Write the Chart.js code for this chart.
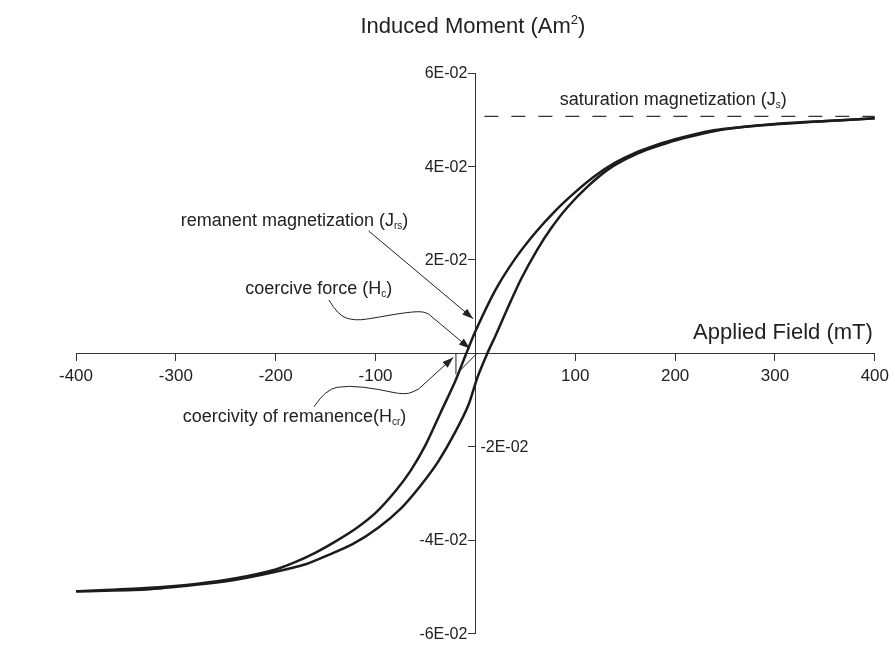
<!DOCTYPE html>
<html>
<head>
<meta charset="utf-8">
<title>Hysteresis loop</title>
<script src="https://cdn.jsdelivr.net/npm/chart.js@4.4.1/dist/chart.umd.min.js"></script>
<style>
  html, body { margin: 0; padding: 0; background: #fff; }
  #contenedor-histeresis { width: 895px; height: 646px; position: relative; }
</style>
</head>
<body>
<div id="contenedor-histeresis"><canvas id="grafico-histeresis"></canvas></div>
<script>
// descending branch, field going from +400 to -400 mT
const upperField = [400, 350, 300, 260, 240, 220, 200, 180, 160, 140, 120, 100, 80, 60, 40, 20, 0, -10, -20, -35, -50, -65, -80, -100, -120, -140, -160, -180, -200, -240, -280, -330, -400];
const upperMoment = [0.0503, 0.0497, 0.0491, 0.0483, 0.0478, 0.0469, 0.0458, 0.0445, 0.0429, 0.0408, 0.0380, 0.0345, 0.0305, 0.0258, 0.0203, 0.0135, 0.0047, -0.0005, -0.0059, -0.0128, -0.0197, -0.0252, -0.0295, -0.0342, -0.0376, -0.0403, -0.0427, -0.0447, -0.0463, -0.0482, -0.0494, -0.0503, -0.0510];

// ascending branch, field going from -400 to +400 mT
const lowerField = [-400, -330, -280, -240, -200, -170, -147, -123, -97, -74, -54, -37, -20, -7, 2, 12, 20, 33, 46, 62, 76, 92, 112, 132, 152, 172, 192, 210, 240, 270, 300, 335, 400];
const lowerMoment = [-0.0510, -0.0506, -0.0496, -0.0485, -0.0468, -0.0452, -0.0432, -0.0409, -0.0373, -0.0331, -0.0281, -0.0231, -0.0168, -0.0111, -0.0052, 0.0000, 0.0037, 0.0100, 0.0160, 0.0222, 0.0268, 0.0312, 0.0356, 0.0392, 0.0417, 0.0436, 0.0450, 0.0461, 0.0476, 0.0485, 0.0490, 0.0495, 0.0503];

// saturation level (dashed)
const saturationField = [9, 400];
const saturationMoment = [0.0507, 0.0507];

const xTicks = [-400, -300, -200, -100, 0, 100, 200, 300, 400];
const xTickLabels = ['-400', '-300', '-200', '-100', '', '100', '200', '300', '400'];
const yTicks = [-0.06, -0.04, -0.02, 0, 0.02, 0.04, 0.06];
const yTickLabels = ['-6E-02', '-4E-02', '-2E-02', '', '2E-02', '4E-02', '6E-02'];
// this one sits right of the axis, the loop is in the way on the left
const yLabelRight = '-2E-02';

const FUENTE = '"Liberation Sans", Arial, Helvetica, sans-serif';
const TINTA = '#222';

function puntos(xs, ys) {
    return xs.map((x, i) => ({ x: x, y: ys[i] }));
}

// text with sub/superscripts: partes = [[texto, 'n' | 'sub' | 'sup'], ...]
function escribir(ctx, partes, x, y, size, align) {
    const chica = Math.round(size * 0.58);
    let total = 0;
    partes.forEach(([t, k]) => {
        ctx.font = (k === 'n' ? size : chica) + 'px ' + FUENTE;
        total += ctx.measureText(t).width;
    });
    let cx = x;
    if (align === 'center') cx = x - total / 2;
    if (align === 'right') cx = x - total;
    ctx.textAlign = 'left';
    ctx.textBaseline = 'alphabetic';
    partes.forEach(([t, k]) => {
        ctx.font = (k === 'n' ? size : chica) + 'px ' + FUENTE;
        const dy = k === 'sub' ? size * 0.2 : (k === 'sup' ? -size * 0.42 : 0);
        ctx.fillText(t, cx, y + dy);
        cx += ctx.measureText(t).width;
    });
}

function punta(ctx, from, to) {
    const ang = Math.atan2(to[1] - from[1], to[0] - from[0]);
    const largo = 11, ancho = 3.8;
    ctx.beginPath();
    ctx.moveTo(to[0], to[1]);
    ctx.lineTo(to[0] - largo * Math.cos(ang) + ancho * Math.sin(ang), to[1] - largo * Math.sin(ang) - ancho * Math.cos(ang));
    ctx.lineTo(to[0] - largo * Math.cos(ang) - ancho * Math.sin(ang), to[1] - largo * Math.sin(ang) + ancho * Math.cos(ang));
    ctx.closePath();
    ctx.fill();
}

// wavy leader through pts, then straight to the arrow tip
function guia(ctx, pts, tip) {
    ctx.beginPath();
    ctx.moveTo(pts[0][0], pts[0][1]);
    for (let i = 1; i < pts.length - 1; i++) {
        const mx = (pts[i][0] + pts[i + 1][0]) / 2;
        const my = (pts[i][1] + pts[i + 1][1]) / 2;
        ctx.quadraticCurveTo(pts[i][0], pts[i][1], mx, my);
    }
    const last = pts[pts.length - 1];
    ctx.lineTo(last[0], last[1]);
    ctx.lineTo(tip[0], tip[1]);
    ctx.stroke();
    punta(ctx, last, tip);
}

const anotaciones = {
    id: 'anotaciones',
    afterDraw(chart) {
        const ctx = chart.ctx;
        const xs = chart.scales.x, ys = chart.scales.y;
        const p = (f, m) => [xs.getPixelForValue(f), ys.getPixelForValue(m)];

        ctx.save();
        ctx.fillStyle = TINTA;
        ctx.strokeStyle = TINTA;
        ctx.lineWidth = 1;

        // y tick labels (a value-positioned axis puts them on the line itself)
        ctx.font = '16px ' + FUENTE;
        ctx.textBaseline = 'middle';
        yTicks.forEach((v, i) => {
            const t = p(0, v);
            if (yTickLabels[i] === yLabelRight) {
                ctx.textAlign = 'left';
                ctx.fillText(yTickLabels[i], t[0] + 5, t[1] + 1);
            } else {
                ctx.textAlign = 'right';
                ctx.fillText(yTickLabels[i], t[0] - 8, t[1] + 1);
            }
        });

        // axis titles
        let q = p(-2.5, 0.0686);
        escribir(ctx, [['Induced Moment (Am', 'n'], ['2', 'sup'], [')', 'n']], q[0], q[1], 22, 'center');
        q = p(398, 0.0031);
        escribir(ctx, [['Applied Field (mT)', 'n']], q[0], q[1], 22, 'right');

        // saturation
        q = p(84.4, 0.0532);
        escribir(ctx, [['saturation magnetization (J', 'n'], ['s', 'sub'], [')', 'n']], q[0], q[1], 18, 'left');

        // remanent magnetization
        q = p(-295, 0.0273);
        escribir(ctx, [['remanent magnetization (J', 'n'], ['rs', 'sub'], [')', 'n']], q[0], q[1], 18, 'left');
        const r0 = p(-107, 0.0262), r1 = p(-2.3, 0.0074);
        ctx.beginPath();
        ctx.moveTo(r0[0], r0[1]);
        ctx.lineTo(r1[0], r1[1]);
        ctx.stroke();
        punta(ctx, r0, r1);

        // coercive force
        q = p(-230.6, 0.0127);
        escribir(ctx, [['coercive force (H', 'n'], ['c', 'sub'], [')', 'n']], q[0], q[1], 18, 'left');
        guia(ctx, [p(-146.7, 0.0114), p(-138, 0.0082), p(-121, 0.0069), p(-97, 0.0077), p(-74, 0.0086), p(-54, 0.0090), p(-47, 0.0084)], p(-5.6, 0.0010));

        // coercivity of remanence
        q = p(-293, -0.0147);
        escribir(ctx, [['coercivity of remanence(H', 'n'], ['cr', 'sub'], [')', 'n']], q[0], q[1], 18, 'left');
        guia(ctx, [p(-161.7, -0.0115), p(-150, -0.0077), p(-127, -0.0069), p(-97, -0.0077), p(-70, -0.0090), p(-57, -0.0077)], p(-22.2, -0.0009));

        // Hcr construction marks
        let a = p(-19.5, 0), b = p(-19.5, -0.0045);
        ctx.beginPath();
        ctx.moveTo(a[0], a[1]);
        ctx.lineTo(b[0], b[1]);
        a = p(-17.2, -0.0041); b = p(1.7, 0);
        ctx.moveTo(a[0], a[1]);
        ctx.lineTo(b[0], b[1]);
        ctx.stroke();

        ctx.restore();
    }
};

document.addEventListener('DOMContentLoaded', () => {

    new Chart(
        document.getElementById('grafico-histeresis'),
        {
            type: 'line',
            data: {
                datasets: [
                    {
                        label: 'descending',
                        data: puntos(upperField, upperMoment),
                        borderColor: '#1c1c1c',
                        borderWidth: 2.5,
                        pointRadius: 0,
                        tension: 0.25
                    },
                    {
                        label: 'ascending',
                        data: puntos(lowerField, lowerMoment),
                        borderColor: '#1c1c1c',
                        borderWidth: 2.5,
                        pointRadius: 0,
                        tension: 0.25
                    },
                    {
                        label: 'saturation',
                        data: puntos(saturationField, saturationMoment),
                        borderColor: '#333',
                        borderWidth: 1.2,
                        borderDash: [14, 13],
                        pointRadius: 0
                    }
                ]
            },
            options: {
                responsive: true,
                maintainAspectRatio: false,
                animation: false,
                layout: { padding: { left: 76, right: 16, top: 73, bottom: 7 } },
                plugins: {
                    legend: { display: false },
                    tooltip: { enabled: false }
                },
                scales: {
                    x: {
                        type: 'linear',
                        min: -400,
                        max: 400,
                        position: { y: 0 },
                        afterBuildTicks: scale => { scale.ticks = xTicks.map(v => ({ value: v })); },
                        border: { color: '#333', width: 1 },
                        grid: {
                            drawOnChartArea: false,
                            tickLength: 7,
                            color: c => (c.tick && c.tick.value === 0 ? 'rgba(0,0,0,0)' : '#333')
                        },
                        ticks: {
                            autoSkip: false,
                            maxRotation: 0,
                            padding: 6,
                            color: TINTA,
                            font: { family: FUENTE, size: 17 },
                            callback: (v, i) => xTickLabels[i]
                        }
                    },
                    y: {
                        type: 'linear',
                        min: -0.06,
                        max: 0.06,
                        position: { x: 0 },
                        afterBuildTicks: scale => { scale.ticks = yTicks.map(v => ({ value: v })); },
                        border: { color: '#333', width: 1 },
                        grid: {
                            drawOnChartArea: false,
                            tickLength: 7,
                            color: c => (c.tick && c.tick.value === 0 ? 'rgba(0,0,0,0)' : '#333')
                        },
                        ticks: {
                            color: TINTA,
                            font: { family: FUENTE, size: 16 },
                            callback: () => ''
                        }
                    }
                }
            },
            plugins: [anotaciones]
        }
    );
});
</script>
</body>
</html>
